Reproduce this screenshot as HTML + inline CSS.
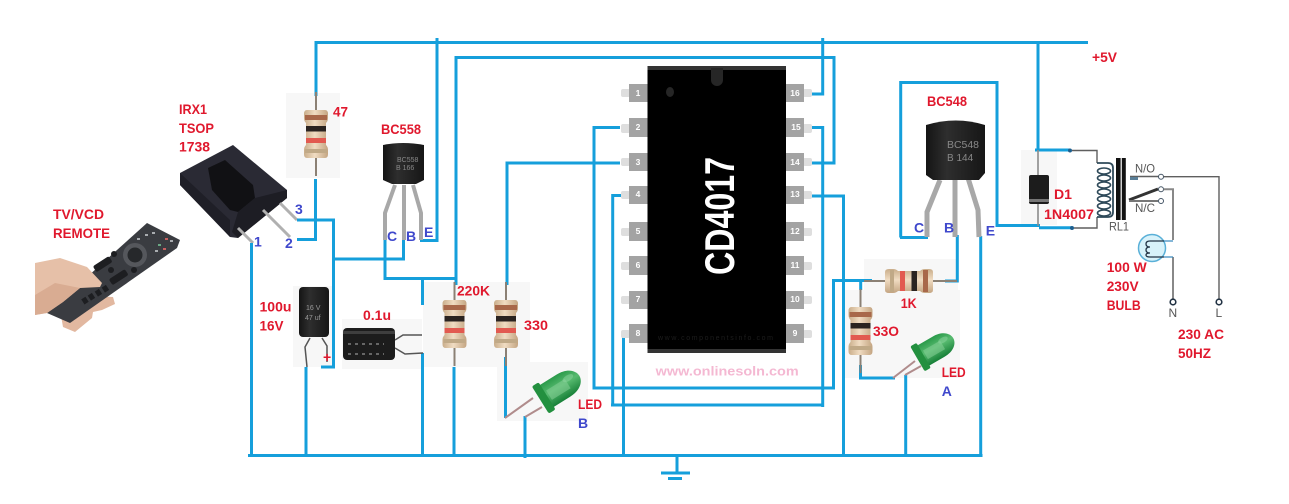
<!DOCTYPE html>
<html><head><meta charset="utf-8"><title>CD4017 IR remote relay circuit</title>
<style>
html,body{margin:0;padding:0;background:#fff;width:1289px;height:504px;overflow:hidden}
svg{display:block}
text{font-family:"Liberation Sans",sans-serif}
.r{font-weight:bold;font-size:14px;fill:#e0182d}
.b{font-weight:bold;font-size:14px;fill:#3f48cc}
.p{font-weight:bold;font-size:8.5px;fill:#fff;text-anchor:middle}
.g{font-size:12px;fill:#555}
.w{fill:none;stroke:#159fdb;stroke-width:3}
.t{fill:none;stroke:#5f5f5f;stroke-width:1.4}
.leg{fill:none;stroke:#a8a8a8;stroke-width:4}
</style></head><body>
<svg width="1289" height="504" viewBox="0 0 1289 504" xmlns="http://www.w3.org/2000/svg">
<defs>
<linearGradient id="tan" x1="0" x2="1" y1="0" y2="0"><stop offset="0" stop-color="#c9ad8a"/><stop offset=".45" stop-color="#f0dcc2"/><stop offset="1" stop-color="#c4a582"/></linearGradient>
<linearGradient id="led" x1="0" x2="0" y1="0" y2="1"><stop offset="0" stop-color="#2a9a4a"/><stop offset=".45" stop-color="#58bb70"/><stop offset="1" stop-color="#178038"/></linearGradient>
<linearGradient id="blk" x1="0" x2="1" y1="0" y2="0"><stop offset="0" stop-color="#141414"/><stop offset=".35" stop-color="#2e2e2e"/><stop offset="1" stop-color="#161616"/></linearGradient>
<g id="res">
<rect x="-1" y="-42" width="2" height="84" fill="#8b8074"/>
<path d="M-9-24h18q3 0 3 4v4q0 3-2 5v22q2 2 2 5v4q0 4-3 4h-18q-3 0-3-4v-4q0-3 2-5v-22q-2-2-2-5v-4q0-4 3-4z" fill="url(#tan)"/>
<rect x="-11" y="-19" width="22" height="5" fill="#a8684a"/>
<rect x="-10" y="-8" width="20" height="5.5" fill="#2a2320"/>
<rect x="-10" y="4" width="20" height="5" fill="#e25a50"/>
<rect x="-11" y="15" width="22" height="4" fill="#c0a987"/>
</g>
<g id="ledg">
<path d="M4-13H25C38-13 44-6 44 0S38 13 25 13H4z" fill="url(#led)"/>
<rect x="-2" y="-16" width="8" height="32" rx="2" fill="#23903f"/>
<rect x="8" y="-5" width="22" height="11" fill="#86cf97" opacity=".55"/>
<ellipse cx="33" cy="-4" rx="6" ry="3" fill="#8ed6a0" opacity=".5"/>
</g>
</defs>

<!-- halos -->
<g fill="#f7f7f7">
<rect x="286" y="93" width="54" height="85"/>
<rect x="293" y="286" width="41" height="81"/>
<rect x="342" y="319" width="80" height="50"/>
<rect x="423" y="282" width="107" height="85"/>
<rect x="497" y="362" width="91" height="59"/>
<rect x="1021" y="150" width="36" height="75"/>
<rect x="864" y="259" width="94" height="50"/>
<rect x="845" y="290" width="115" height="88"/>
</g>

<!-- hand lower fingers -->
<path d="M92 296 113 297 115 304 102 310 93 312 92 318 75 332 63 327 60 310z" fill="#e2b8a0"/>
<!-- remote -->
<path d="M47 313 147 223 180 240 177 248 70 323z" fill="#3a3c41"/>
<circle cx="135" cy="255" r="12" fill="#55575c"/>
<circle cx="135" cy="255" r="7.5" fill="#26282b"/>
<g fill="#1d1e21">
<rect x="93" y="261" width="19" height="7" rx="2" transform="rotate(-33 102 264)"/>
<rect x="109" y="274" width="19" height="7" rx="2" transform="rotate(-33 118 277)"/>
<circle cx="114" cy="254" r="3"/>
<circle cx="110" cy="269" r="0"/>
<circle cx="111" cy="270" r="3"/>
<circle cx="134" cy="270" r="3"/>
</g>
<g fill="#1d1e21">
<rect x="82" y="298" width="5" height="6" transform="rotate(-33 84 300)"/><rect x="89" y="294" width="5" height="6" transform="rotate(-33 91 297)"/><rect x="96" y="290" width="5" height="6" transform="rotate(-33 98 293)"/><rect x="103" y="286" width="5" height="6" transform="rotate(-33 105 289)"/>
</g>
<g fill="#a9acb0">
<rect x="137" y="238" width="3" height="2"/><rect x="145" y="234" width="3" height="2"/><rect x="152" y="232" width="3" height="2"/>
<rect x="158" y="244" width="3" height="2" fill="#6aa884"/><rect x="163" y="248" width="3" height="2" fill="#c86060"/><rect x="165" y="238" width="3" height="2" fill="#c86060"/>
<rect x="170" y="240" width="3" height="2"/><rect x="155" y="250" width="3" height="2"/>
</g>
<!-- hand upper -->
<path d="M35 263 60 258 87 267 102 283 100 287 80 288 63 302 47 313 35 315z" fill="#e6c0a8"/>
<path d="M35 295 55 283 80 288 63 302 47 313 35 315z" fill="#d9ac92"/>

<!-- TSOP -->
<path d="M180 173 233 145 287 190 287 198 238 238 230 237 180 185z" fill="#2a2a34"/>
<path d="M180 173 230 220 230 237 180 185z" fill="#1f1f27"/>
<path d="M208 168 225 160 253 185 255 198 238 212 230 210 212 190z" fill="#111114"/>
<path d="M238 212 255 198 287 190 287 198 238 238 232 232z" fill="#1d1d24"/>
<path d="M238 228 253 243M263 210 290 237M280 203 297 220" stroke="#b0b0b0" stroke-width="3" fill="none"/>

<!-- wires -->
<g class="w">
<path d="M316 96V42.5H1088"/>
<path d="M315.5 179V239.5H297"/>
<path d="M297 220H333.5V367H321"/>
<path d="M334 259H403.5V240"/>
<path d="M385 240V278.5H456"/>
<path d="M420 240.5H437V38"/>
<path d="M456 285V57.5H834V163H812"/>
<path d="M822.7 38V94H809"/>
<path d="M810 127.5H822.7V407"/>
<path d="M823 405H611"/>
<path d="M612.7 405V195.5H622"/>
<path d="M620 127.5H594V388H835"/>
<path d="M833.5 388V280.5H872"/>
<path d="M620 163H507V285"/>
<path d="M812 196H843.5V455"/>
<path d="M623.5 335V455"/>
<path d="M248 455.5H982.5"/>
<path d="M251.5 243V455"/>
<path d="M306 367V455"/>
<path d="M422.5 278V305M422.5 353V455"/>
<path d="M454 367V455"/>
<path d="M505.5 357V418"/>
<path d="M525 416V458"/>
<path d="M677 455V473"/>
<path d="M661 473H690"/>
<path d="M668 478.5H682"/>
<path d="M900.7 237.5V82.5H997V225.5H1040"/>
<path d="M900 237.5H928"/>
<path d="M957.3 235V281H945"/>
<path d="M980.7 236V455"/>
<path d="M860.7 280V290M860.5 365V378H895"/>
<path d="M905.7 375V455"/>
<path d="M1038 41V150"/>
<path d="M1035 150H1070"/>
<path d="M1039 227.7H1072"/>
</g>
<circle cx="1070" cy="150.5" r="2" fill="#1d5f8f"/>
<circle cx="1072" cy="228" r="2" fill="#1d5f8f"/>

<!-- resistors -->
<use href="#res" transform="translate(316 134)"/>
<use href="#res" transform="translate(454.5 324)"/>
<use href="#res" transform="translate(506 324)"/>
<use href="#res" transform="translate(860.5 331)"/>
<use href="#res" transform="translate(909 281) rotate(90)"/>
<path d="M950 281H957M864 281H872" stroke="#8b8074" stroke-width="2"/>

<!-- BC558 -->
<path class="leg" d="M395 185 385 213V240M404 185V240M413 185 421 213V240"/>
<path d="M383 145q20-4 41 0v35l-8 4h-24l-9-4z" fill="url(#blk)"/>
<text x="397" y="162" font-size="7" fill="#888">BC558</text>
<text x="396" y="170" font-size="7" fill="#888">B  166</text>

<!-- BC548 -->
<path class="leg" style="stroke-width:5" d="M940 180 927 212V237M955 178V237M968 178 978 210 979 237"/>
<path d="M926 125q30-9 59 0v48l-6 7h-46l-7-5z" fill="url(#blk)"/>
<text x="947" y="148" font-size="10" fill="#888" textLength="32" lengthAdjust="spacingAndGlyphs">BC548</text>
<text x="947" y="161" font-size="10" fill="#888">B  144</text>

<!-- caps -->
<path d="M307 367 305 347 310 338M322 338 327 346V362" fill="none" stroke="#555" stroke-width="1.5"/>
<rect x="299" y="287" width="30" height="50" rx="4" fill="url(#blk)"/>
<text x="306" y="310" font-size="7" fill="#999">16 V</text>
<text x="305" y="320" font-size="7" fill="#999">47 uf</text>
<path d="M395 340 403 335H422M395 348 405 354 423 353" fill="none" stroke="#555" stroke-width="1.5"/>
<rect x="343" y="328" width="52" height="32" rx="4" fill="#1c1c1c"/>
<rect x="343" y="331" width="52" height="3" fill="#555" opacity=".6"/>
<path d="M348 344h36M348 354h36" stroke="#666" stroke-width="2" stroke-dasharray="3 4"/>

<!-- LEDs -->
<path d="M505 418 533 398M525 417 542 407" stroke="#b08c8c" stroke-width="2"/>
<use href="#ledg" transform="translate(542 399) rotate(-32)"/>
<path d="M893 378 915 361M905 375 921 366" stroke="#b08c8c" stroke-width="2"/>
<use href="#ledg" transform="translate(919 358) rotate(-30) scale(.9)"/>

<!-- IC pins -->
<g fill="#dedede">
<rect x="621" y="89" width="9" height="8" rx="2"/><rect x="621" y="124" width="9" height="9" rx="2"/>
<rect x="621" y="158" width="9" height="8" rx="2"/><rect x="621" y="191" width="9" height="8" rx="2"/>
<rect x="621" y="228" width="9" height="8" rx="2"/><rect x="621" y="262" width="9" height="8" rx="2"/>
<rect x="621" y="296" width="9" height="8" rx="2"/><rect x="621" y="330" width="9" height="8" rx="2"/>
<rect x="803" y="89" width="9" height="8" rx="2"/><rect x="803" y="124" width="9" height="9" rx="2"/>
<rect x="803" y="158" width="9" height="8" rx="2"/><rect x="803" y="191" width="9" height="8" rx="2"/>
<rect x="803" y="228" width="9" height="8" rx="2"/><rect x="803" y="262" width="9" height="8" rx="2"/>
<rect x="803" y="296" width="9" height="8" rx="2"/><rect x="803" y="330" width="9" height="8" rx="2"/>
</g>
<g fill="#a3a3a3">
<rect x="629" y="84" width="19" height="18"/><rect x="629" y="118" width="19" height="19"/>
<rect x="629" y="153" width="19" height="18"/><rect x="629" y="186" width="19" height="18"/>
<rect x="629" y="222" width="19" height="19"/><rect x="629" y="256" width="19" height="19"/>
<rect x="629" y="291" width="19" height="18"/><rect x="629" y="324" width="19" height="19"/>
<rect x="786" y="84" width="18" height="18"/><rect x="786" y="118" width="18" height="19"/>
<rect x="786" y="153" width="18" height="18"/><rect x="786" y="186" width="18" height="18"/>
<rect x="786" y="222" width="18" height="19"/><rect x="786" y="256" width="18" height="19"/>
<rect x="786" y="291" width="18" height="18"/><rect x="786" y="324" width="18" height="19"/>
</g>
<rect x="647.5" y="66" width="138.5" height="287" fill="#333"/>
<rect x="647.5" y="70" width="138.5" height="279" fill="#000"/>
<path d="M711 68h12v12a6 6 0 0 1-12 0z" fill="#262626"/>
<ellipse cx="670" cy="92" rx="4" ry="5" fill="#262626"/>
<text class="p" x="638" y="96">1</text><text class="p" x="638" y="130">2</text>
<text class="p" x="638" y="165">3</text><text class="p" x="638" y="197">4</text>
<text class="p" x="638" y="234">5</text><text class="p" x="638" y="268">6</text>
<text class="p" x="638" y="302">7</text><text class="p" x="638" y="336">8</text>
<text class="p" x="795" y="96">16</text><text class="p" x="796" y="130">15</text>
<text class="p" x="795" y="165">14</text><text class="p" x="795" y="197">13</text>
<text class="p" x="795" y="234">12</text><text class="p" x="795" y="268">11</text>
<text class="p" x="795" y="302">10</text><text class="p" x="795" y="336">9</text>
<text transform="translate(734 275) rotate(-90)" font-size="42" font-weight="bold" fill="#fff" textLength="118" lengthAdjust="spacingAndGlyphs">CD4017</text>
<text x="658" y="340" font-size="7" fill="#1d1d1d" textLength="115">www.componentsinfo.com</text>

<!-- diode -->
<rect x="1037.2" y="150" width="1.6" height="76" fill="#8c8c8c"/>
<rect x="1029" y="175" width="20" height="29" rx="2" fill="#1c1c1c"/>
<rect x="1029" y="199" width="20" height="3" fill="#777"/>

<!-- relay -->
<path class="t" d="M1072 150.5H1097V163M1074 228H1097V217"/>
<path d="M1097 163H1108Q1113 163 1113 168V212Q1113 217 1108 217H1097" fill="none" stroke="#2f4a5a" stroke-width="1.8"/>
<g fill="none" stroke="#2f4a5a" stroke-width="1.6">
<ellipse cx="1104" cy="171" rx="6.5" ry="3"/><ellipse cx="1104" cy="178" rx="6.5" ry="3"/><ellipse cx="1104" cy="185" rx="6.5" ry="3"/><ellipse cx="1104" cy="192" rx="6.5" ry="3"/><ellipse cx="1104" cy="199" rx="6.5" ry="3"/><ellipse cx="1104" cy="206" rx="6.5" ry="3"/><ellipse cx="1104" cy="213" rx="6.5" ry="3"/>
</g>
<rect x="1116" y="158" width="4.6" height="62" fill="#111"/>
<rect x="1121.8" y="158" width="4" height="62" fill="#111"/>
<path class="t" d="M1130 176.5H1159"/>
<rect x="1130" y="177" width="8" height="3" fill="#5a7f98"/>
<circle cx="1161" cy="176.7" r="2.5" fill="#fff" stroke="#456"/>
<path class="t" d="M1163.5 176.7H1219V300"/>
<path d="M1129 200 1158 189" stroke="#333" stroke-width="3"/>
<path d="M1129 201H1158" stroke="#777" stroke-width="2"/>
<circle cx="1161" cy="189.3" r="2.5" fill="#fff" stroke="#456"/>
<circle cx="1161" cy="201" r="2.5" fill="#fff" stroke="#456"/>
<path d="M1163.5 189.3H1173V240M1173 257V300" fill="none" stroke="#888" stroke-width="2"/>
<circle cx="1152" cy="248" r="13.5" fill="#d8f2fa" stroke="#5ab0d8" stroke-width="1.5"/>
<path d="M1164 241H1173M1164 257H1173" stroke="#3a8abf" stroke-width="1.3" fill="none"/>
<path d="M1164 241H1150q-4 0-4 3t4 3q-4 0-4 3t4 3q-4 0-4 2t4 2H1164" fill="none" stroke="#234" stroke-width="1.3"/>
<circle cx="1173" cy="302" r="2.8" fill="#fff" stroke="#234" stroke-width="1.6"/>
<circle cx="1219" cy="302" r="2.8" fill="#fff" stroke="#234" stroke-width="1.6"/>
<text class="g" x="1168.5" y="317" style="font-size:12px">N</text>
<text class="g" x="1215.5" y="317" style="font-size:12px">L</text>
<text class="g" x="1135" y="172.7" textLength="20" lengthAdjust="spacingAndGlyphs">N/O</text>
<text class="g" x="1135" y="212" textLength="20" lengthAdjust="spacingAndGlyphs">N/C</text>
<text class="g" x="1109" y="230.7" textLength="20" lengthAdjust="spacingAndGlyphs">RL1</text>

<!-- labels -->
<g class="r">
<text x="179" y="114" textLength="28" lengthAdjust="spacingAndGlyphs">IRX1</text>
<text x="179" y="133" textLength="35" lengthAdjust="spacingAndGlyphs">TSOP</text>
<text x="179" y="151.7" textLength="31" lengthAdjust="spacingAndGlyphs">1738</text>
<text x="53" y="219" textLength="51" lengthAdjust="spacingAndGlyphs">TV/VCD</text>
<text x="53" y="238" textLength="57" lengthAdjust="spacingAndGlyphs">REMOTE</text>
<text x="333" y="116.7" textLength="15" lengthAdjust="spacingAndGlyphs">47</text>
<text x="381" y="134" textLength="40" lengthAdjust="spacingAndGlyphs">BC558</text>
<text x="259.5" y="311.7" textLength="32" lengthAdjust="spacingAndGlyphs">100u</text>
<text x="259.5" y="330.7" textLength="24" lengthAdjust="spacingAndGlyphs">16V</text>
<text x="363" y="320" textLength="28" lengthAdjust="spacingAndGlyphs">0.1u</text>
<text x="323" y="362">+</text>
<text x="457" y="295.7" textLength="33" lengthAdjust="spacingAndGlyphs">220K</text>
<text x="524" y="330" textLength="24" lengthAdjust="spacingAndGlyphs">330</text>
<text x="578" y="409" textLength="24" lengthAdjust="spacingAndGlyphs">LED</text>
<text x="1092" y="62" textLength="25" lengthAdjust="spacingAndGlyphs">+5V</text>
<text x="927" y="106" textLength="40" lengthAdjust="spacingAndGlyphs">BC548</text>
<text x="1054" y="199" textLength="18" lengthAdjust="spacingAndGlyphs">D1</text>
<text x="1044" y="219" textLength="50" lengthAdjust="spacingAndGlyphs">1N4007</text>
<text x="1106.7" y="272" textLength="40" lengthAdjust="spacingAndGlyphs">100 W</text>
<text x="1106.7" y="291" textLength="32" lengthAdjust="spacingAndGlyphs">230V</text>
<text x="1106.7" y="310" textLength="34" lengthAdjust="spacingAndGlyphs">BULB</text>
<text x="1178" y="339" textLength="46" lengthAdjust="spacingAndGlyphs">230 AC</text>
<text x="1178" y="358" textLength="33" lengthAdjust="spacingAndGlyphs">50HZ</text>
<text x="900.7" y="308" textLength="16" lengthAdjust="spacingAndGlyphs">1K</text>
<text x="873" y="336" textLength="26" lengthAdjust="spacingAndGlyphs">33O</text>
<text x="941.7" y="377" textLength="24" lengthAdjust="spacingAndGlyphs">LED</text>
</g>
<g class="b">
<text x="254" y="246.7">1</text>
<text x="285" y="248">2</text>
<text x="295" y="214">3</text>
<text x="387" y="241">C</text>
<text x="406" y="241">B</text>
<text x="424" y="237">E</text>
<text x="578" y="428">B</text>
<text x="914" y="232.7">C</text>
<text x="944" y="232.7">B</text>
<text x="985.7" y="235.7">E</text>
<text x="941.7" y="396">A</text>
</g>
<text x="655.7" y="375.7" font-size="13" font-weight="bold" fill="#f4b8d2" textLength="143" lengthAdjust="spacingAndGlyphs">www.onlinesoln.com</text>
</svg>
</body></html>
